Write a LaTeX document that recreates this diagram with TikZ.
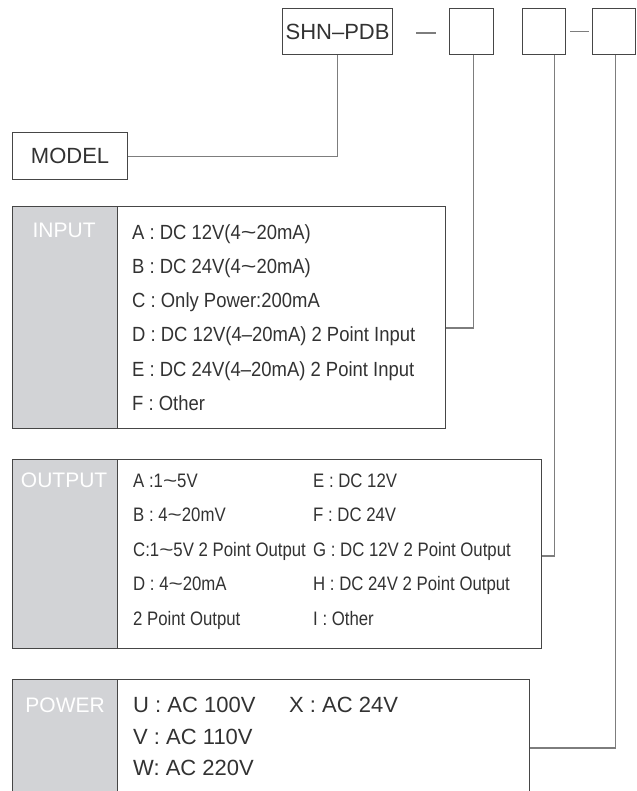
\documentclass[tikz,border=0pt]{standalone}
\usepackage{fontspec}
\usepackage{graphicx}
\setmainfont{Liberation Sans}
\newfontfamily\inpfont[FakeStretch=0.9]{Liberation Sans}
\newfontfamily\outfont[FakeStretch=0.86]{Liberation Sans}
\newcommand\wtld{\scalebox{1.45}[1]{\textasciitilde}}
\usetikzlibrary{calc}
\definecolor{colgray}{RGB}{210,211,214}
\definecolor{boxline}{RGB}{70,70,70}
\definecolor{connc}{RGB}{125,125,125}
\definecolor{txt}{RGB}{50,50,50}
\begin{document}
\begin{tikzpicture}[x=1bp,y=-1bp,
  topbox/.style={draw=boxline, line width=1.2bp, anchor=north west, inner sep=0pt,
    font=\fontsize{22bp}{26bp}\selectfont, text=txt},
  labcol/.style={draw=boxline, line width=1.2bp, fill=colgray, anchor=north west,
    inner sep=0pt, minimum width=105bp},
  bodybox/.style={draw=boxline, line width=1.2bp, anchor=north west, inner sep=0pt},
  labtext/.style={text=white, font=\fontsize{21bp}{24bp}\selectfont, inner sep=0pt,
    text height=15bp, text depth=0pt},
  intext/.style={anchor=west, inner sep=0pt, text=txt,
    font=\inpfont\fontsize{20.5bp}{24bp}\selectfont, text height=14.7bp, text depth=0pt},
  outtext/.style={anchor=west, inner sep=0pt, text=txt,
    font=\outfont\fontsize{19.5bp}{23bp}\selectfont, text height=14bp, text depth=0pt},
  pwtext/.style={anchor=west, inner sep=0pt, text=txt,
    font=\fontsize{22bp}{26bp}\selectfont, text height=15.8bp, text depth=0pt},
  wire/.style={draw=connc, line width=1.2bp}]
\useasboundingbox (0,0) rectangle (637,791);
\clip (0,0) rectangle (637,791);

% top row
\node[topbox, minimum width=110bp, minimum height=46bp] (shn) at (282,8) {SHN–PDB};
\node[topbox, minimum width=44bp, minimum height=46bp] (b2) at (449,8) {};
\node[topbox, minimum width=43bp, minimum height=46bp] (b3) at (522,8) {};
\node[topbox, minimum width=43bp, minimum height=46bp] (b4) at (592,8) {};
\node[topbox, minimum width=115bp, minimum height=47bp] (model) at (12,132) {MODEL};

% INPUT
\node[labcol, minimum height=222bp] (inlab) at (12,206) {};
\node[bodybox, minimum width=328bp, minimum height=222bp] (inbody) at (117,206) {};
\node[labtext] (inlabt) at ($(inlab.north)+(-1,23.5)$) {INPUT};
\node[intext] (ia) at (132,232) {A : DC 12V(4\wtld20mA)};
\node[intext] (ib) at (132,266.2) {B : DC 24V(4\wtld20mA)};
\node[intext] (ic) at (132,300.4) {C : Only Power:200mA};
\node[intext] (id) at (132,334.6) {D : DC 12V(4–20mA) 2 Point Input};
\node[intext] (ie) at (132,368.8) {E : DC 24V(4–20mA) 2 Point Input};
\node[intext] (if) at (132,403) {F : Other};

% OUTPUT
\node[labcol, minimum height=189bp] (outlab) at (12,459) {};
\node[bodybox, minimum width=424bp, minimum height=189bp] (outbody) at (117,459) {};
\node[labtext] (outlabt) at ($(outlab.north)+(-1,21)$) {OUTPUT};
\node[outtext] (oa) at (133,480) {A :1\wtld5V};
\node[outtext] (ob) at (133,514.5) {B : 4\wtld20mV};
\node[outtext] (oc) at (133,549) {C:1\wtld5V 2 Point Output};
\node[outtext] (od) at (133,583.5) {D : 4\wtld20mA};
\node[outtext] (oe2) at (133,618) {2 Point Output};
\node[outtext] (oe) at (313,480) {E : DC 12V};
\node[outtext] (of) at (313,514.5) {F : DC 24V};
\node[outtext] (og) at (313,549) {G : DC 12V 2 Point Output};
\node[outtext] (oh) at (313,583.5) {H : DC 24V 2 Point Output};
\node[outtext] (oi) at (313,618) {I : Other};

% POWER
\node[labcol, minimum height=140bp] (pwlab) at (12,679) {};
\node[bodybox, minimum width=412bp, minimum height=140bp] (pwbody) at (117,679) {};
\node[labtext] (pwlabt) at ($(pwlab.north)+(0,26)$) {POWER};
\node[pwtext] (pu) at (133,705) {U : AC 100V};
\node[pwtext] (px) at (289,705) {X : AC 24V};
\node[pwtext] (pv) at (133,737) {V : AC 110V};
\node[pwtext] (pw) at (133,768) {W: AC 220V};

% connectors
\draw[wire] (shn.south) |- (model.east);
\draw[wire] (shn.east) ++(23,1.5) -- ++(20,0);
\draw[wire, shorten <=4bp, shorten >=3bp] (b3.east) -- (b4.west);
\draw[wire] ($(b2.south)+(1.5,0)$) |- ($(inbody.north east)+(0,122)$);
\draw[wire] ($(b3.south)+(10,0)$) |- ($(outbody.north east)+(0,97)$);
\draw[wire] ($(b4.south)+(1.5,0)$) |- ($(pwbody.north east)+(0,69)$);
\end{tikzpicture}
\end{document}
